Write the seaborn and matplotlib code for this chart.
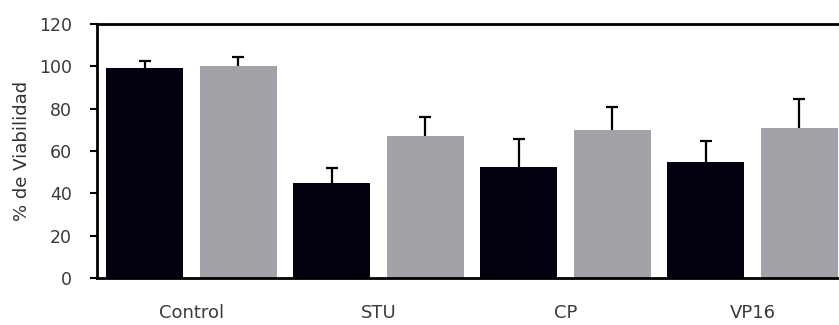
import numpy as np
import pandas as pd
import matplotlib
matplotlib.use("Agg")
import matplotlib.pyplot as plt
import seaborn as sns

# Viability (%) per treatment for the two cell lines, with upper error (SD)
tratamientos = ["Control", "STU", "CP", "VP16"]
series = ["Línea 1", "Línea 2"]
viabilidad_1 = [99, 45, 52.5, 55]
viabilidad_2 = [100, 67, 70, 71]
error_1 = [3.5, 7, 13, 9.5]
error_2 = [4.5, 9, 11, 13.5]

df = pd.DataFrame({
    "tratamiento": tratamientos * 2,
    "serie": [series[0]] * 4 + [series[1]] * 4,
    "viabilidad": viabilidad_1 + viabilidad_2,
    "error": error_1 + error_2,
})

sns.set_theme(style="white")
plt.rcParams["font.family"] = ["DejaVu Sans"]

fig = plt.figure(figsize=(8.39, 3.25), dpi=100)
ax = fig.add_axes([97 / 839, 47 / 325, 742 / 839, 254 / 325])

sns.barplot(
    data=df, x="tratamiento", y="viabilidad", hue="serie",
    order=tratamientos, hue_order=series,
    palette=["#040010", "#a4a2a8"], width=1.0, gap=0.18,
    errorbar=None, legend=False, ax=ax, saturation=1,
    edgecolor="none",
)

# upper-only error bars centred on each bar
for s, cont in zip(series, ax.containers[:2]):
    rows = df[df["serie"] == s]
    xs = [p.get_x() + p.get_width() / 2 for p in cont]
    _, caps, _ = ax.errorbar(
        xs, rows["viabilidad"], yerr=[np.zeros(len(rows)), rows["error"]],
        fmt="none", ecolor="black", elinewidth=1.6, capsize=4.5,
        capthick=1.6, zorder=3)
    caps[0].set_visible(False)

ax.set_xlim(-0.505, 3.462)
ax.set_ylim(0, 120)
ax.set_yticks(range(0, 121, 20))
ax.set_xlabel("")
ax.set_ylabel("% de Viabilidad", fontsize=13, color="#333333", labelpad=6)

for side in ["left", "top", "bottom"]:
    ax.spines[side].set_visible(True)
    ax.spines[side].set_color("black")
    ax.spines[side].set_linewidth(2)
ax.spines["right"].set_visible(False)

ax.tick_params(axis="y", direction="out", length=5, width=1.5, color="black",
               pad=13, labelsize=12.5, labelcolor="#3a3a3a", left=True)
ax.tick_params(axis="x", length=0, pad=19, labelsize=13, labelcolor="#3a3a3a")

fig.savefig("out.png", dpi=100)
